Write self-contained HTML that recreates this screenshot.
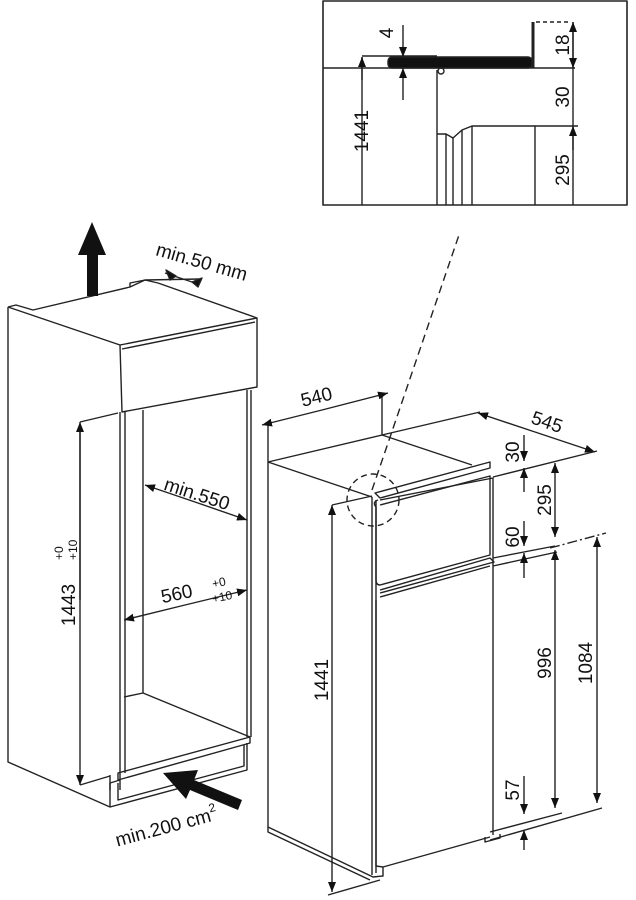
<!DOCTYPE html>
<html><head><meta charset="utf-8"><style>
html,body{margin:0;padding:0;background:#fff}
svg{display:block}
text{font-family:"Liberation Sans",Arial,sans-serif;fill:#111}
</style></head><body>
<svg width="636" height="900" viewBox="0 0 636 900" xmlns="http://www.w3.org/2000/svg">
<defs>
<marker id="a" viewBox="0 0 10 10" refX="10" refY="5" markerWidth="10" markerHeight="10" markerUnits="userSpaceOnUse" orient="auto-start-reverse"><path d="M0,1 L10,5 L0,9 z" fill="#111"/></marker>
</defs>
<g stroke="#222" stroke-width="1.4" fill="none" stroke-linejoin="round">
<!-- INSET -->
<rect x="323" y="1" width="304" height="204" stroke-width="1.6"/>
<line x1="323" y1="68" x2="575" y2="68"/>
<rect x="388" y="57" width="144" height="11" rx="4" fill="#111"/>
<path d="M533,22 L533,68" stroke-width="3"/>
<path d="M536,22 L568,22" stroke-dasharray="4,3"/>
<line x1="437" y1="70" x2="437" y2="205"/>
<circle cx="441" cy="71" r="3"/>
<line x1="362" y1="57" x2="362" y2="205"/>
<line x1="362" y1="56" x2="437" y2="56"/>
<line x1="362" y1="80" x2="362" y2="57" marker-end="url(#a)"/>
<line x1="403" y1="25" x2="403" y2="57" marker-end="url(#a)"/>
<line x1="403" y1="100" x2="403" y2="68" marker-end="url(#a)"/>
<path d="M437,134 L446,134 L453,138 L462,130 L472,126 L535,126 L535,205"/>
<line x1="446" y1="134" x2="446" y2="205"/><line x1="453" y1="138" x2="453" y2="205"/><line x1="462" y1="130" x2="462" y2="205"/><line x1="472" y1="126" x2="472" y2="205"/>
<line x1="535" y1="126" x2="578" y2="126"/>
<line x1="573" y1="22" x2="573" y2="205"/>
<line x1="573" y1="45" x2="573" y2="22" marker-end="url(#a)"/>
<line x1="573" y1="45" x2="573" y2="68" marker-end="url(#a)"/>
<line x1="573" y1="150" x2="573" y2="126" marker-end="url(#a)"/>

<!-- LEFT CABINET -->
<path d="M8,307 L8,762 L110,807 L247,770 L247,743"/>
<path d="M8,307 L16,305 L33,310 L130,287 L130,283 L145,280 L158,283 L257,318 L257,387 L122,412 L120,345 L8,307"/>
<path d="M120,345 L257,318"/>
<path d="M122,349 L255,322"/>
<path d="M130,287 L145,280 L200,279"/>
<path d="M120,412 L120,790"/>
<line x1="125" y1="412" x2="125" y2="773"/>
<line x1="143" y1="410" x2="143" y2="693"/>
<line x1="247" y1="390" x2="247" y2="737"/>
<line x1="251" y1="390" x2="251" y2="737"/>
<path d="M124,697 L143,693 L250,737"/>
<path d="M118,773 L250,737 L250,743 L118,780 Z"/>
<path d="M110,775 L110,807"/>
<path d="M118,783 L118,800 L244,766 L244,745"/>
<path d="M120,780 L110,783 L110,790"/>
<!-- 1443 -->
<line x1="80" y1="422" x2="118" y2="413"/>
<line x1="80" y1="785" x2="110" y2="776"/>
<line x1="80" y1="430" x2="80" y2="785" marker-end="url(#a)"/>
<line x1="80" y1="600" x2="80" y2="422" marker-end="url(#a)"/>
<!-- min550 -->
<line x1="195" y1="502" x2="145" y2="485" marker-end="url(#a)"/>
<line x1="195" y1="502" x2="247" y2="520" marker-end="url(#a)"/>
<!-- 560 -->
<line x1="185" y1="605" x2="124" y2="620" marker-end="url(#a)"/>
<line x1="185" y1="605" x2="247" y2="590" marker-end="url(#a)"/>
<!-- min 50 -->
<line x1="165" y1="273" x2="195" y2="283"/>
<path d="M166,270 L176,276 L170,280 Z M198,287 L202,278 L192,282 Z" fill="#111"/>

<!-- FRIDGE -->
<path d="M268,462 L268,827 L373,877 L383,876 L383,867"/>
<path d="M268,462 L382,435 L472,465"/>
<path d="M268,462 L372,497"/>
<path d="M372,497 L372,875 M376,500 L376,873"/>
<path d="M375,493 L490,462 L490,468 L380,498 Z"/>
<path d="M380,500 L493,478 L493,835"/>
<path d="M380,505 L490,476 L490,555 L380,585 Q376,585 376,580"/>
<path d="M378,500 Q372,502 376,507 L376,580"/>
<path d="M380,597 L490,566 M376,600 L376,866 L383,867 L490,837"/>
<path d="M380,590 L490,558 L494,562 L380,593"/>
<path d="M485,837 L485,842 L500,838 L500,834"/>
<path d="M268,827 L268,832 L370,880"/>
<!-- dims -->
<line x1="268" y1="423" x2="268" y2="462"/>
<line x1="382" y1="393" x2="382" y2="435"/>
<line x1="322" y1="410" x2="262" y2="425" marker-end="url(#a)"/>
<line x1="322" y1="410" x2="388" y2="393" marker-end="url(#a)"/>
<line x1="382" y1="435" x2="480" y2="412"/>
<line x1="535" y1="432" x2="478" y2="413" marker-end="url(#a)"/>
<line x1="535" y1="432" x2="595" y2="452" marker-end="url(#a)"/>
<line x1="493" y1="477" x2="597" y2="451"/>
<line x1="493" y1="558" x2="555" y2="546"/>
<line x1="493" y1="566" x2="557" y2="552"/>
<path d="M550,548 L606,533" stroke-dasharray="10,3,2,3"/>
<line x1="524" y1="435" x2="524" y2="461" marker-end="url(#a)"/>
<line x1="524" y1="492" x2="524" y2="468" marker-end="url(#a)"/>
<line x1="555" y1="490" x2="555" y2="463" marker-end="url(#a)"/>
<line x1="555" y1="490" x2="555" y2="537" marker-end="url(#a)"/>
<line x1="524" y1="521" x2="524" y2="546" marker-end="url(#a)"/>
<line x1="524" y1="578" x2="524" y2="553" marker-end="url(#a)"/>
<line x1="555" y1="680" x2="555" y2="550" marker-end="url(#a)"/>
<line x1="555" y1="680" x2="555" y2="808" marker-end="url(#a)"/>
<line x1="597" y1="680" x2="597" y2="537" marker-end="url(#a)"/>
<line x1="597" y1="680" x2="597" y2="803" marker-end="url(#a)"/>
<line x1="490" y1="840" x2="602" y2="808"/>
<line x1="490" y1="832" x2="562" y2="813"/>
<line x1="524" y1="776" x2="524" y2="814" marker-end="url(#a)"/>
<line x1="524" y1="850" x2="524" y2="830" marker-end="url(#a)"/>
<line x1="332" y1="505" x2="372" y2="496"/>
<line x1="328" y1="895" x2="380" y2="880"/>
<line x1="332" y1="680" x2="332" y2="505" marker-end="url(#a)"/>
<line x1="332" y1="680" x2="332" y2="892" marker-end="url(#a)"/>
<circle cx="373" cy="500" r="26" stroke-dasharray="6,4"/>
<line x1="372" y1="490" x2="460" y2="232" stroke-dasharray="8,5"/>
</g>
<!-- thick arrows -->
<path d="M87,296 L87,255 L78,255 L92,222 L106,255 L98,255 L98,296 Z" fill="#111"/>
<path d="M242,800 L238,810 L190,790 L186,799 L163,773 L198,770 L194,780 Z" fill="#111"/>
<!-- text -->
<g font-size="19">
<text transform="translate(393,33) rotate(-90)" text-anchor="middle">4</text>
<text transform="translate(368,131) rotate(-90)" text-anchor="middle">1441</text>
<text transform="translate(575,45) rotate(-90)" text-anchor="middle" dy="-6">18</text>
<text transform="translate(575,97) rotate(-90)" text-anchor="middle" dy="-6">30</text>
<text transform="translate(575,170) rotate(-90)" text-anchor="middle" dy="-6">295</text>
<text transform="translate(200,268) rotate(16)" text-anchor="middle">min.50 mm</text>
<text transform="translate(195,500) rotate(18)" text-anchor="middle">min.550</text>
<text transform="translate(178,600) rotate(-12)" text-anchor="middle">560</text>
<text transform="translate(213,588) rotate(-12)" font-size="12">+0</text>
<text transform="translate(213,603) rotate(-12)" font-size="12">+10</text>
<text transform="translate(75,605) rotate(-90)" text-anchor="middle">1443</text>
<text transform="translate(63,560) rotate(-90)" font-size="12">+0</text>
<text transform="translate(77,560) rotate(-90)" font-size="12">+10</text>
<text transform="translate(168,833) rotate(-15)" text-anchor="middle">min.200 cm<tspan font-size="12" dy="-9">2</tspan></text>
<text transform="translate(318,403) rotate(-14)" text-anchor="middle">540</text>
<text transform="translate(545,428) rotate(19)" text-anchor="middle">545</text>
<text transform="translate(519,452) rotate(-90)" text-anchor="middle">30</text>
<text transform="translate(551,500) rotate(-90)" text-anchor="middle">295</text>
<text transform="translate(519,537) rotate(-90)" text-anchor="middle">60</text>
<text transform="translate(551,663) rotate(-90)" text-anchor="middle">996</text>
<text transform="translate(592,663) rotate(-90)" text-anchor="middle">1084</text>
<text transform="translate(519,790) rotate(-90)" text-anchor="middle">57</text>
<text transform="translate(328,680) rotate(-90)" text-anchor="middle">1441</text>
</g>
</svg>
</body></html>
